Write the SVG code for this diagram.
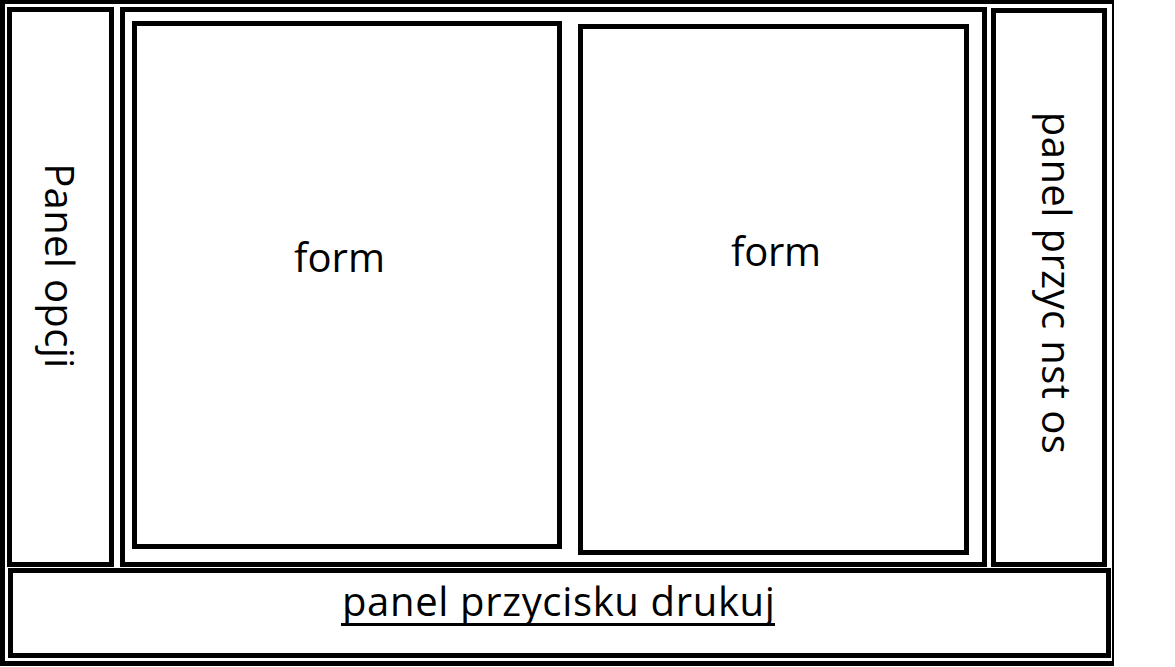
<svg xmlns="http://www.w3.org/2000/svg" width="1175" height="667" viewBox="0 0 1175 667">
  <style>
    .box { fill: none; stroke: #000; stroke-width: 5; }
    .lbl { font-family: "Open Sans", "Noto Sans", sans-serif; font-size: 40px; fill: #000; text-anchor: middle; }
    .uline { stroke: #000; stroke-width: 3; }
  </style>
  <rect x="0" y="0" width="1175" height="667" fill="#fff"/>
  <g id="frame">
    <path d="M0 0H1114V666H0Z M5 4V661H1112V4Z" fill="#000" fill-rule="evenodd"/>
  </g>
  <g id="panel-opcji">
    <rect class="box" x="9.5" y="9.5" width="102" height="555"/>
    <text class="lbl" transform="translate(45 265.7) rotate(90)" textLength="205" lengthAdjust="spacing">Panel opcji</text>
  </g>
  <g id="container">
    <rect class="box" x="122.5" y="9.5" width="862" height="555"/>
  </g>
  <g id="form1">
    <rect class="box" x="134.5" y="23.5" width="425" height="523"/>
    <text class="lbl" x="339.5" y="271.7" textLength="91" lengthAdjust="spacing">form</text>
  </g>
  <g id="form2">
    <rect class="box" x="580.5" y="26.5" width="386" height="526"/>
    <text class="lbl" x="776" y="265.7" textLength="90" lengthAdjust="spacing">form</text>
  </g>
  <g id="panel-przyc-nst-os">
    <rect class="box" x="993.5" y="10.5" width="111" height="554"/>
    <text class="lbl" transform="translate(1041.5 282.8) rotate(90)" textLength="342" lengthAdjust="spacing">panel przyc nst os</text>
  </g>
  <g id="panel-przycisku-drukuj">
    <rect class="box" x="10.5" y="570.5" width="1098" height="85"/>
    <text class="lbl" x="558.4" y="616" textLength="433" lengthAdjust="spacing">panel przycisku drukuj</text>
    <line class="uline" x1="341" y1="624.5" x2="775" y2="624.5"/>
  </g>
</svg>
